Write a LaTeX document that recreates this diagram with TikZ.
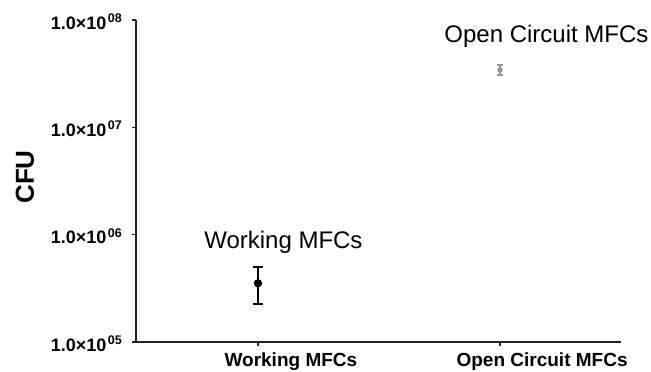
\documentclass[tikz,border=0pt]{standalone}
\usepackage{fontspec}
\setmainfont{Liberation Sans}
\usetikzlibrary{positioning}
\definecolor{CFUgrey}{RGB}{150,150,150}
\definecolor{CFUaxis}{RGB}{35,35,35}

\begin{document}
\begin{tikzpicture}[x=242pt,y=107.3pt,
    ticklab/.style={anchor=base east,inner sep=0pt,font=\fontsize{18}{18}\selectfont\bfseries},
    catlab/.style={anchor=base,inner sep=0pt,font=\fontsize{19}{19}\selectfont\bfseries},
    grouplab/.style={anchor=base,inner sep=0pt,font=\fontsize{24}{24}\selectfont}]
    \useasboundingbox (-0.0661,4.7204) rectangle (2.624,8.1873);
    % axes
    \draw[CFUaxis,line width=1.4pt] (0.496,8)--(0.496,5)--(2.5,5);
    \foreach \e in {5,6,7,8}{
      \draw[CFUaxis,line width=1.2pt] (0.4777,\e)--(0.496,\e);
      \node[ticklab] (tick\e) at (0.438,\e-0.084)
        {1.0×10\kern1.5pt\raisebox{0.36em}{\fontsize{12.5}{13}\selectfont 0\e}};
    }
    \foreach \c in {1,2}{\draw[CFUaxis,line width=1.2pt] (\c,5)--(\c,4.963);}
    \node[rotate=90,inner sep=0pt,font=\fontsize{26}{26}\selectfont\bfseries] (ylab) at (0.037,6.538) {CFU};
    \node[catlab] (catwork) at (1.136,4.776) {Working MFCs};
    \node[catlab] (catopen) at (2.174,4.776) {Open Circuit MFCs};
    % working MFCs
    \draw[black,line width=1.8pt] (1,5.351)--(1,5.702);
    \foreach \v in {5.351,5.702}{\draw[black,line width=1.8pt] (1-0.022,\v)--(1+0.022,\v);}
    \fill[black] (1,5.547) circle (4.2pt);
    \node[grouplab] (labwork) at (1.105,5.867) {Working MFCs};
    % open circuit MFCs
    \draw[CFUgrey,line width=1.4pt] (2,7.488)--(2,7.582);
    \foreach \v in {7.488,7.582}{\draw[CFUgrey,line width=1.4pt] (2-0.013,\v)--(2+0.013,\v);}
    \fill[CFUgrey] (2,7.535) circle (2.8pt);
    \node[grouplab] (labopen) at (2.192,7.789) {Open Circuit MFCs};
\end{tikzpicture}
\end{document}
